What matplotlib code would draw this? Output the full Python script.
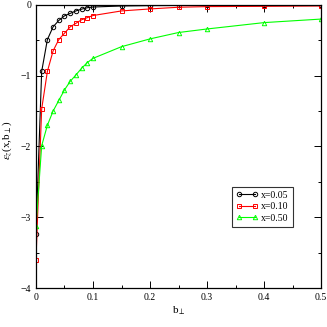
import numpy as np
import matplotlib
matplotlib.use('Agg')
import matplotlib.pyplot as plt
from matplotlib.ticker import MultipleLocator

plt.rcParams['font.family'] = 'Liberation Serif'
plt.rcParams['mathtext.fontset'] = 'stix'

# b_perp values
b_small = [0.0, 0.01, 0.02, 0.03, 0.04, 0.05, 0.06, 0.07, 0.08, 0.09, 0.10,
           0.15, 0.20, 0.25, 0.30, 0.40, 0.50]

# x = 0.05
eps_005 = [-3.23, -0.94, -0.49, -0.31, -0.22, -0.155, -0.12, -0.085, -0.06, -0.04, -0.03,
           -0.015, -0.01, -0.008, -0.006, -0.004, -0.003]
# x = 0.10
eps_010 = [-3.60, -1.47, -0.94, -0.65, -0.49, -0.40, -0.31, -0.26, -0.21, -0.18, -0.15,
           -0.085, -0.057, -0.033, -0.024, -0.02, -0.015]
# x = 0.50
eps_050 = [-3.13, -1.99, -1.70, -1.50, -1.35, -1.20, -1.08, -0.99, -0.895, -0.815, -0.755,
           -0.59, -0.48, -0.39, -0.34, -0.25, -0.20]

labels = ['x=0.05', 'x=0.10', 'x=0.50']

fig = plt.figure(figsize=(3.27, 3.27), dpi=100)
ax = fig.add_axes([0.110, 0.119, 0.872, 0.866])

ax.plot(b_small, eps_005, color='black', lw=0.8, marker='o', ms=3.2,
        mfc='none', mew=0.7, label=labels[0])
ax.plot(b_small, eps_010, color='red', lw=0.8, marker='s', ms=3.0,
        mfc='none', mew=0.7, label=labels[1])
ax.plot(b_small, eps_050, color='#00ff00', lw=0.8, marker='^', ms=3.2,
        mfc='none', mew=0.7, label=labels[2])

ax.set_xlim(0, 0.5)
ax.set_ylim(-4, 0)
ax.xaxis.set_major_locator(MultipleLocator(0.1))
ax.xaxis.set_minor_locator(MultipleLocator(0.05))
ax.yaxis.set_major_locator(MultipleLocator(1))
ax.yaxis.set_minor_locator(MultipleLocator(0.5))
ax.xaxis.set_major_formatter(plt.FuncFormatter(lambda v, p: '0' if v == 0 else '%g' % v))
ax.tick_params(which='both', direction='in', top=True, right=True, labelsize=7, width=0.7)
ax.tick_params(which='major', length=5)
ax.tick_params(which='minor', length=2.5)
for s in ax.spines.values():
    s.set_linewidth(0.9)

ax.set_xlabel(r'b$_\perp$', fontsize=8, labelpad=2)
ax.set_ylabel(r'$\varepsilon_z$(x,b$_\perp$)', fontsize=8)
ax.yaxis.set_label_coords(-0.078, 0.523)

leg = ax.legend(loc='upper left', bbox_to_anchor=(0.688, 0.357), fontsize=7,
                frameon=True, fancybox=False, borderpad=0.4, handlelength=2.2,
                handletextpad=0.4, labelspacing=0.25, markerscale=1.0,
                numpoints=2, borderaxespad=0)
leg.get_frame().set_edgecolor('black')
leg.get_frame().set_linewidth(0.8)

fig.savefig('out.png', dpi=100)
